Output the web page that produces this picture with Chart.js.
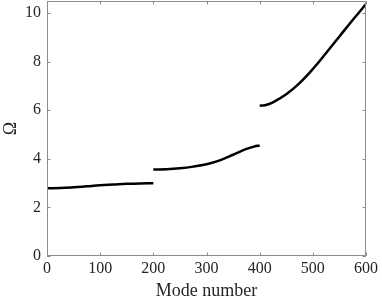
<!DOCTYPE html>
<html>
<head>
<meta charset="utf-8">
<script src="https://cdn.jsdelivr.net/npm/chart.js@4.4.1/dist/chart.umd.min.js"></script>
<style>
  html, body { margin: 0; padding: 0; background: #fff; }
  #wrap { width: 382px; height: 302px; }
</style>
</head>
<body>
<div id="wrap"><canvas id="myChart" width="382" height="302"></canvas></div>
<script>
// Datos (tres ramas de modos)
const modos1 = [0, 25, 50, 75, 100, 125, 150, 175, 200];
const omega1 = [2.79, 2.80, 2.83, 2.87, 2.91, 2.94, 2.97, 2.99, 3.00];

const modos2 = [200, 225, 250, 275, 300, 325, 350, 375, 390, 400];
const omega2 = [3.56, 3.57, 3.61, 3.68, 3.78, 3.94, 4.17, 4.41, 4.51, 4.55];

const modos3 = [400, 410, 425, 450, 475, 500, 525, 550, 575, 600];
const omega3 = [6.19, 6.21, 6.33, 6.66, 7.12, 7.70, 8.36, 9.04, 9.72, 10.37];

const ticksX = [0, 100, 200, 300, 400, 500, 600];
const ticksY = [0, 2, 4, 6, 8, 10];

const fuente = "'Liberation Serif', 'DejaVu Serif', serif";
const colorEje = "#8c8c8c";

function puntos(xs, ys) {
  return xs.map((x, i) => ({ x: x, y: ys[i] }));
}

function rama(xs, ys) {
  return {
    data: puntos(xs, ys),
    borderColor: "#000",
    borderWidth: 2.5,
    pointRadius: 0,
    showLine: true,
    fill: false,
    tension: 0.4,
  };
}

// Marcas de los ejes hacia adentro, en los cuatro lados (estilo MATLAB)
const marcasInternas = {
  id: "marcasInternas",
  afterDraw(chart) {
    const { ctx, chartArea: a, scales } = chart;
    const largo = 3.5;
    ctx.save();
    ctx.strokeStyle = colorEje;
    ctx.lineWidth = 1;
    ctx.beginPath();
    ctx.rect(a.left + 0.5, a.top + 0.5, a.right - a.left - 1, a.bottom - a.top - 1);
    ticksX.forEach((v) => {
      const px = Math.round(scales.x.getPixelForValue(v)) + 0.5;
      ctx.moveTo(px, a.bottom);
      ctx.lineTo(px, a.bottom - largo);
      ctx.moveTo(px, a.top);
      ctx.lineTo(px, a.top + largo);
    });
    ticksY.forEach((v) => {
      const py = Math.round(scales.y.getPixelForValue(v)) + 0.5;
      ctx.moveTo(a.left, py);
      ctx.lineTo(a.left + largo, py);
      ctx.moveTo(a.right, py);
      ctx.lineTo(a.right - largo, py);
    });
    ctx.stroke();
    ctx.restore();
  },
};

const ctx = document.getElementById("myChart").getContext("2d");

const myChart = new Chart(ctx, {
  type: "scatter",
  data: {
    datasets: [rama(modos1, omega1), rama(modos2, omega2), rama(modos3, omega3)],
  },
  options: {
    responsive: false,
    animation: false,
    layout: { padding: { top: 1, right: 16, left: 0, bottom: 0 } },
    plugins: {
      legend: { display: false },
      tooltip: { enabled: false },
    },
    scales: {
      x: {
        type: "linear",
        min: 0,
        max: 600,
        afterBuildTicks: (s) => { s.ticks = ticksX.map((v) => ({ value: v })); },
        afterFit: (s) => {
          s.height = 46;
          s.paddingLeft = 0;
          s.paddingRight = 0;
        },
        grid: { display: false, drawTicks: false },
        border: { display: false },
        ticks: { color: "#262626", font: { family: fuente, size: 16 }, padding: 3 },
        title: {
          display: true,
          text: "Mode number",
          color: "#262626",
          font: { family: fuente, size: 18 },
          padding: { top: 0, bottom: 0 },
        },
      },
      y: {
        type: "linear",
        min: 0,
        max: 10.5,
        afterBuildTicks: (s) => { s.ticks = ticksY.map((v) => ({ value: v })); },
        afterFit: (s) => {
          s.width = 47;
          s.paddingTop = 0;
          s.paddingBottom = 0;
        },
        grid: { display: false, drawTicks: false },
        border: { display: false },
        ticks: { color: "#262626", font: { family: fuente, size: 16 }, padding: 6 },
        title: {
          display: true,
          text: "Ω",
          color: "#262626",
          font: { family: fuente, size: 18 },
          padding: { top: 0, bottom: 0 },
        },
      },
    },
  },
  plugins: [marcasInternas],
});
</script>
</body>
</html>
